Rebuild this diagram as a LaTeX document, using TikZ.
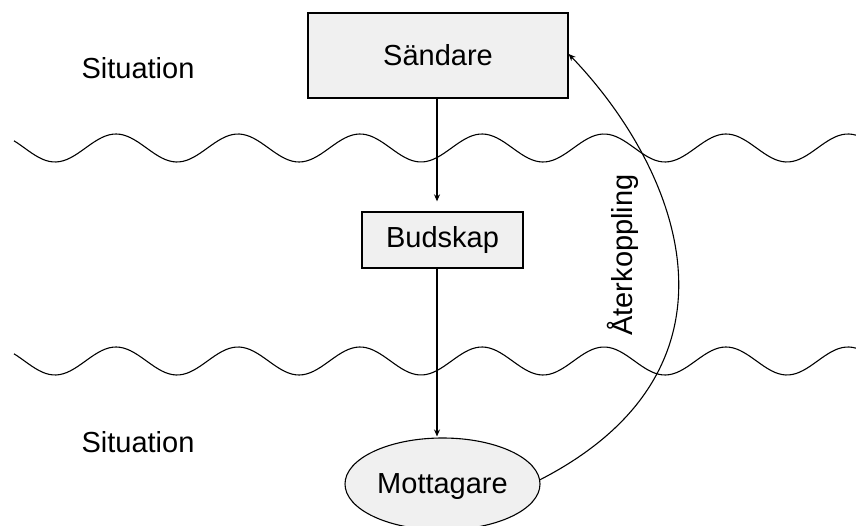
\documentclass[tikz,border=0pt]{standalone}
\usepackage{fontspec}
\setmainfont{Liberation Sans}
\usetikzlibrary{shapes.geometric,arrows.meta}
\begin{document}
\begin{tikzpicture}[x=1pt,y=-1pt,
  every node/.style={font=\fontsize{29}{34}\selectfont, inner sep=0pt},
  boxnode/.style={draw, line width=1.3pt, fill=black!6},
  ovalnode/.style={ellipse, draw, line width=1.1pt, fill=black!6},
  wavy/.style={line width=1.1pt},
  conn/.style={line width=1.1pt, -{Stealth[length=7pt,width=6pt]}}]
\useasboundingbox (0,0) rectangle (856,526);
% waves
\draw[wavy] plot[domain=14:856, samples=240] (\x, {148 + 14*cos(2.95082*(\x-55))});
\draw[wavy] plot[domain=14:856, samples=240] (\x, {361 + 14*cos(2.95082*(\x-55))});
% nodes
\node[boxnode, minimum width=260pt, minimum height=85pt] (sand) at (438,55.5) {Sändare};
\node[boxnode, minimum width=161pt, minimum height=56pt] (bud) at (442.5,240) {Budskap};
\node[ovalnode, minimum width=195pt, minimum height=92pt] (mott) at (442.5,484) {};
\node (motttext) at (442.5,487) {Mottagare};
\node (sit1) at (138,68) {Situation};
\node (sit2) at (138,442) {Situation};
\coordinate (x0) at (437,0);
% connectors
\draw[conn, shorten >=10pt] (sand.south -| x0) -- (bud.north -| x0);
\draw[conn] (bud.south -| x0) -- ([yshift=1pt]mott.north -| x0);
\draw[conn] ([xshift=-1pt,yshift=4pt]mott.east) .. controls (758,368) and (680,170) .. ([yshift=1.5pt]sand.east);
\node[rotate=90] (fb) at (623,255) {Återkoppling};
\end{tikzpicture}
\end{document}
